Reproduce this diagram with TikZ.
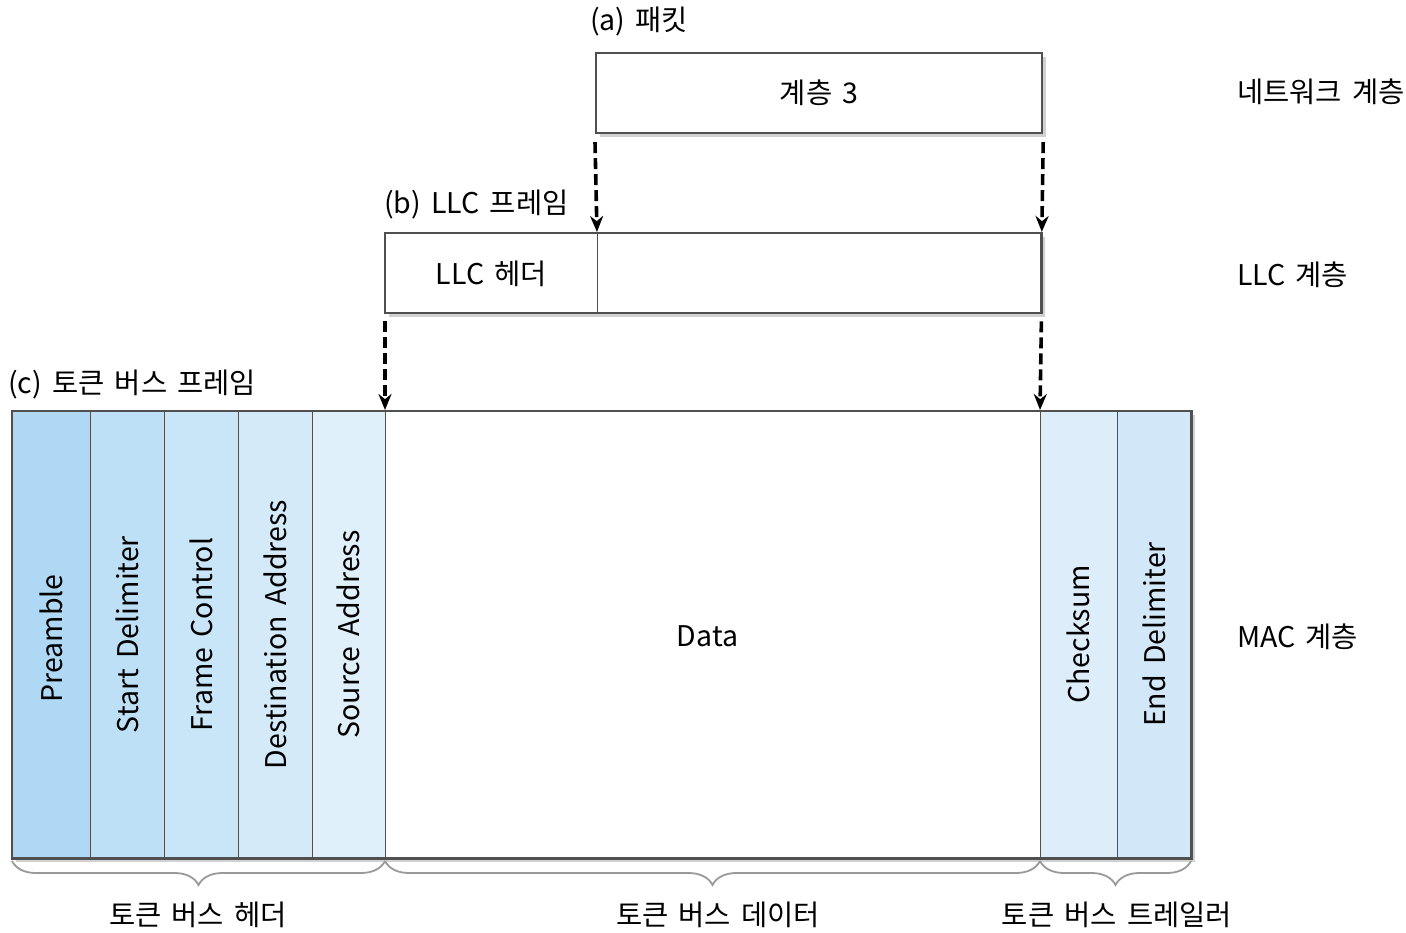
\documentclass[tikz,border=0pt]{standalone}
\usepackage{fontspec}
\setmainfont[WordSpace=1.6]{Noto Sans CJK KR}
\usetikzlibrary{decorations.pathreplacing,shadows,arrows.meta,calc}
\definecolor{c1}{HTML}{AED8F4}
\definecolor{c2}{HTML}{BDE0F7}
\definecolor{c3}{HTML}{C9E5F8}
\definecolor{c4}{HTML}{D4EAF9}
\definecolor{c5}{HTML}{E0F0FB}
\definecolor{c7}{HTML}{DDEEFA}
\definecolor{c8}{HTML}{D2E8F9}
\definecolor{edge}{HTML}{505050}
\begin{document}
\begin{tikzpicture}[x=1pt,y=-1pt,
  txt/.style={font=\fontsize{28.5}{32}\selectfont, text=black},
  frame/.style={draw=edge, line width=2.2pt},
  shad/.style={drop shadow={shadow xshift=4pt, shadow yshift=-4pt, opacity=0.3, fill=black!60}},
  cell/.style={draw=edge, line width=0.8pt, minimum height=447pt, inner sep=0pt, outer sep=0pt, anchor=north west},
  vlab/.style={txt, rotate=90},
  dasharrow/.style={draw=black, line width=3.6pt, dash pattern=on 11pt off 5pt, -{Stealth[length=16pt,width=13pt]}, shorten >=1pt},
  brc/.style={draw=black!40, line width=1.8pt, decorate, decoration={brace, mirror, amplitude=24pt, raise=3pt}},
  lab/.style={txt, anchor=west, inner sep=0pt}
]
\useasboundingbox (0,0) rectangle (1406,933);

% (a) packet
\node[frame, shad, fill=white, minimum width=446pt, minimum height=80pt, inner sep=0pt, anchor=north west, txt] (pkt) at (595,52) {계층 3};
\node[lab] (la) at (590,22) {(a) 패킷};

% (b) LLC frame
\node[shad, fill=white, minimum width=656pt, minimum height=80pt, inner sep=0pt, anchor=north west] (llc) at (385,233) {};
\node[draw=edge, line width=0.8pt, minimum width=212pt, minimum height=80pt, inner sep=0pt, anchor=north west, txt] (llch) at (385,233) {LLC 헤더};
\node[draw=edge, line width=0.8pt, minimum width=444pt, minimum height=80pt, inner sep=0pt, anchor=north west] (llcd) at (597,233) {};
\draw[frame] (llc.north west) rectangle (llc.south east);
\node[lab] (lb) at (384,205) {(b) LLC 프레임};

% (c) token bus frame
\node[shad, fill=white, minimum width=1179pt, minimum height=447pt, inner sep=0pt, anchor=north west] (tb) at (12,411) {};
\node[cell, fill=c1, minimum width=78pt] (pre) at (12,411) {};
\node[cell, fill=c2, minimum width=74pt] (sd) at (90,411) {};
\node[cell, fill=c3, minimum width=74pt] (fc) at (164,411) {};
\node[cell, fill=c4, minimum width=74pt] (da) at (238,411) {};
\node[cell, fill=c5, minimum width=73pt] (sa) at (312,411) {};
\node[cell, fill=white, minimum width=655pt] (data) at (385,411) {};
\node[cell, fill=c7, minimum width=77pt] (cs) at (1040,411) {};
\node[cell, fill=c8, minimum width=74pt] (ed) at (1117,411) {};
\draw[frame] (tb.north west) rectangle (tb.south east);

\node[vlab] at ($(pre.center)+(0,4)$) {Preamble};
\node[vlab] at (sd.center) {Start Delimiter};
\node[vlab] at (fc.center) {Frame Control};
\node[vlab] at (da.center) {Destination Address};
\node[vlab] at (sa.center) {Source Address};
\node[txt] at ($(data.center)+(-5,2)$) {Data};
\node[vlab] at (cs.center) {Checksum};
\node[vlab] at (ed.center) {End Delimiter};
\node[lab] (lc) at (8,385) {(c) 토큰 버스 프레임};

% arrows
\draw[dasharrow] ([yshift=-8pt]pkt.south west) -- (llcd.north west);
\draw[dasharrow] ([yshift=-8pt]pkt.south east) -- (llcd.north east);
\draw[dasharrow] ([yshift=-8pt]llc.south west) -- (data.north west);
\draw[dasharrow] ([yshift=-8pt]llc.south east) -- (data.north east);

% braces
\draw[brc] (pre.south west) -- (sa.south east);
\draw[brc] (data.south west) -- (data.south east);
\draw[brc] (cs.south west) -- (ed.south east);
\node[txt] (t1) at (198,915) {토큰 버스 헤더};
\node[txt] (t2) at (718,915) {토큰 버스 데이터};
\node[txt] (t3) at (1117,915) {토큰 버스 트레일러};

% layer labels
\node[lab] (l1) at (1237,92) {네트워크 계층};
\node[lab] (l2) at (1237,275) {LLC 계층};
\node[lab] (l3) at (1237,637) {MAC 계층};
\end{tikzpicture}
\end{document}
